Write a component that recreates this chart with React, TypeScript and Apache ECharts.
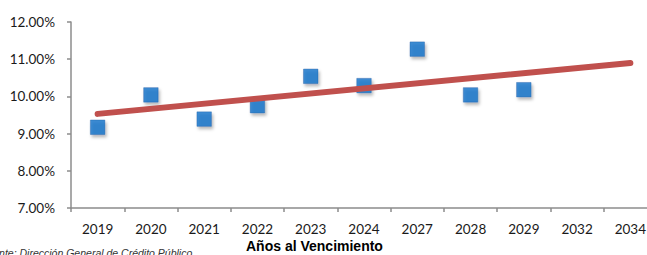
import React, { useEffect, useRef } from "react";
import * as echarts from "echarts";

const categories = ["2019", "2020", "2021", "2022", "2023", "2024", "2027", "2028", "2029", "2032", "2034"];
const rates: (number | null)[] = [9.17, 10.04, 9.39, 9.75, 10.54, 10.29, 11.27, 10.04, 10.18, null, null];
const trendStart = 9.53;
const trendEnd = 10.9;
const yTicks = { min: 7, max: 12, interval: 1 };
const axisTitle = "Años al Vencimiento";
const sourceNote = "Fuente: Dirección General de Crédito Público";

export default function App() {
  const ref = useRef<HTMLDivElement>(null);
  useEffect(() => {
    if (!ref.current) return;
    const chart = echarts.init(ref.current, null, { renderer: "svg" });
    const axisColor = "#8c8c8c";
    chart.setOption({
      animation: false,
      backgroundColor: "#ffffff",
      grid: { left: 71, right: 3, top: 22, bottom: 47 },
      xAxis: {
        type: "category",
        data: categories,
        boundaryGap: true,
        axisLine: { lineStyle: { color: axisColor, width: 1.5 } },
        axisTick: { show: true, length: 4, lineStyle: { color: axisColor, width: 1.5 } },
        axisLabel: { color: "#1a1a1a", fontFamily: "Lato", fontSize: 13.5, margin: 14 },
        splitLine: { show: false },
      },
      yAxis: {
        type: "value",
        min: yTicks.min,
        max: yTicks.max,
        interval: yTicks.interval,
        axisLine: { show: true, lineStyle: { color: axisColor, width: 1.5 } },
        axisTick: { show: true, length: 4, lineStyle: { color: axisColor, width: 1.5 } },
        axisLabel: {
          color: "#1a1a1a",
          fontFamily: "Lato",
          fontSize: 13.5,
          margin: 16,
          formatter: (v: number) => v.toFixed(2) + "%",
        },
        splitLine: { show: false },
      },
      series: [
        {
          type: "scatter",
          data: rates,
          symbol: "rect",
          symbolSize: 14.5,
          itemStyle: {
            color: "#0a6fc8",
            borderColor: "#2a62a8",
            borderWidth: 0.5,
            shadowBlur: 3,
            shadowOffsetX: 1.5,
            shadowOffsetY: 2.5,
            shadowColor: "rgba(0,0,0,0.35)",
          },
          z: 2,
        },
        {
          type: "line",
          data: [
            [categories[0], trendStart],
            [categories[categories.length - 1], trendEnd],
          ],
          symbol: "none",
          lineStyle: { color: "#c0504d", width: 6, cap: "round" },
          z: 3,
        },
      ],
      graphic: [
        {
          type: "text",
          left: 246,
          top: 239,
          style: {
            text: axisTitle,
            font: "bold 14px 'Liberation Sans', Arial, sans-serif",
            fill: "#000000",
          },
        },
        {
          type: "text",
          left: -19,
          top: 247.5,
          style: {
            text: sourceNote,
            font: "italic 10.5px 'Liberation Sans', Arial, sans-serif",
            fill: "#333333",
          },
        },
      ],
    });
    return () => chart.dispose();
  }, []);
  return (
    <div style={{ position: "fixed", left: 0, top: 0, width: 647, height: 255, overflow: "hidden", background: "#fff" }}>
      <div ref={ref} style={{ width: 660, height: 255 }} />
    </div>
  );
}
